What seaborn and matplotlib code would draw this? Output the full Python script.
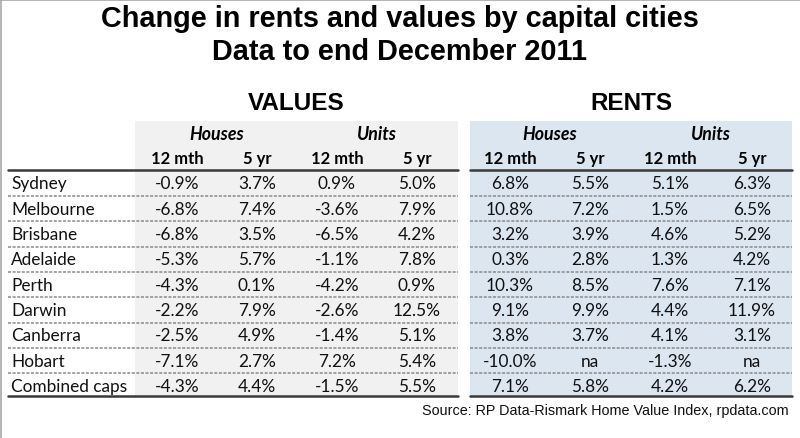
import matplotlib
matplotlib.use("Agg")
import matplotlib.pyplot as plt
import seaborn as sns
from matplotlib.patches import Rectangle

sns.set_theme(style="white")
plt.rcParams['font.family'] = ['Lato', 'DejaVu Sans']
plt.rcParams['text.color'] = '#000000'

title_lines = ["Change in rents and values by capital cities", "Data to end December 2011"]
cities = ["Sydney", "Melbourne", "Brisbane", "Adelaide", "Perth", "Darwin",
          "Canberra", "Hobart", "Combined caps"]
groups = ["VALUES", "RENTS"]
subgroups = ["Houses", "Units"]
periods = ["12 mth", "5 yr"]
values_houses_12m = ["-0.9%", "-6.8%", "-6.8%", "-5.3%", "-4.3%", "-2.2%", "-2.5%", "-7.1%", "-4.3%"]
values_houses_5y = ["3.7%", "7.4%", "3.5%", "5.7%", "0.1%", "7.9%", "4.9%", "2.7%", "4.4%"]
values_units_12m = ["0.9%", "-3.6%", "-6.5%", "-1.1%", "-4.2%", "-2.6%", "-1.4%", "7.2%", "-1.5%"]
values_units_5y = ["5.0%", "7.9%", "4.2%", "7.8%", "0.9%", "12.5%", "5.1%", "5.4%", "5.5%"]
rents_houses_12m = ["6.8%", "10.8%", "3.2%", "0.3%", "10.3%", "9.1%", "3.8%", "-10.0%", "7.1%"]
rents_houses_5y = ["5.5%", "7.2%", "3.9%", "2.8%", "8.5%", "9.9%", "3.7%", "na", "5.8%"]
rents_units_12m = ["5.1%", "1.5%", "4.6%", "1.3%", "7.6%", "4.4%", "4.1%", "-1.3%", "4.2%"]
rents_units_5y = ["6.3%", "6.5%", "5.2%", "4.2%", "7.1%", "11.9%", "3.1%", "na", "6.2%"]
source = "Source: RP Data-Rismark Home Value Index, rpdata.com"

columns = [values_houses_12m, values_houses_5y, values_units_12m, values_units_5y,
           rents_houses_12m, rents_houses_5y, rents_units_12m, rents_units_5y]

fig = plt.figure(figsize=(8, 4.39), dpi=100)
ax = fig.add_axes([0, 0, 1, 1])
ax.set_xlim(0, 800)
ax.set_ylim(439, 0)
ax.axis("off")

# frame
ax.plot([1, 1], [0, 439], color="#a8a8a8", lw=1.2)
ax.plot([0, 800], [1, 1], color="#a8a8a8", lw=1.2)

# blocks
block_x = [(135, 458), (470, 792)]
block_colors = ["#f1f1f1", "#dce6f1"]
for (x0, x1), c in zip(block_x, block_colors):
    ax.add_patch(Rectangle((x0, 122), x1 - x0, 397 - 122, color=c, lw=0, zorder=0))

title_font = ['Liberation Sans', 'DejaVu Sans']
ax.text(400, 19, title_lines[0], ha="center", va="center", fontsize=20.8,
        fontweight="bold", family=title_font)
ax.text(400, 52, title_lines[1], ha="center", va="center", fontsize=20.8,
        fontweight="bold", family=title_font)

col_x = [177, 257, 337, 417, 510, 590, 670, 752]
group_x = [296, 631]
for g, gx in zip(groups, group_x):
    ax.text(gx, 104, g, ha="center", va="center", fontsize=17.5, fontweight="bold",
            family=title_font)

for gi in range(2):
    for si, s in enumerate(subgroups):
        cx = (col_x[gi * 4 + si * 2] + col_x[gi * 4 + si * 2 + 1]) / 2
        ax.text(cx, 135, s, ha="center", va="center", fontsize=12.8, fontweight="bold",
                style="italic")
        for pi, p in enumerate(periods):
            ax.text(col_x[gi * 4 + si * 2 + pi], 159, p, ha="center", va="center",
                    fontsize=12, fontweight="bold")

row_y0 = 184.5
row_h = 25.3
for ri, city in enumerate(cities):
    y = row_y0 + ri * row_h
    ax.text(11, y, city, ha="left", va="center", fontsize=12.4, color="#111111")
    for ci, col in enumerate(columns):
        ax.text(col_x[ci], y, col[ri], ha="center", va="center", fontsize=12.4,
                color="#111111")

segs = [(8, 458), (470, 792)]
for x0, x1 in segs:
    ax.plot([x0, x1], [171, 171], color="#3a3a3a", lw=1.8)
    ax.plot([x0, x1], [397.5, 397.5], color="#3a3a3a", lw=1.8)
    for ri in range(1, len(cities)):
        y = row_y0 + (ri - 0.5) * row_h
        ax.plot([x0, x1], [y, y], color="#8a8a8a", lw=1.1, ls=(0, (2, 1)))

ax.text(789, 411, source, ha="right", va="center", fontsize=10.4, family=title_font,
        color="#111111")

fig.savefig("out.png", dpi=100)
